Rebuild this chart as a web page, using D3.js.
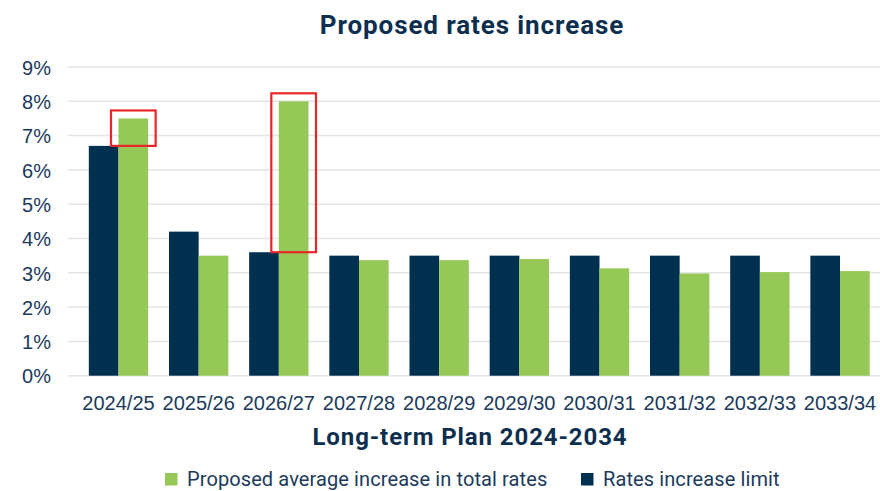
<!DOCTYPE html>
<html>
<head>
<meta charset="utf-8">
<script src="https://cdn.jsdelivr.net/npm/d3@7"></script>
<style>
  body { margin: 0; background: #fff; }
  svg { display: block; font-family: Roboto, "Noto Sans", sans-serif; }
</style>
</head>
<body>
<div id="chart"></div>
<script>
var years = ["2024/25", "2025/26", "2026/27", "2027/28", "2028/29", "2029/30", "2030/31", "2031/32", "2032/33", "2033/34"];
var limitValues = [6.7, 4.2, 3.6, 3.5, 3.5, 3.5, 3.5, 3.5, 3.5, 3.5];
var proposedValues = [7.5, 3.5, 8.0, 3.37, 3.37, 3.4, 3.13, 2.98, 3.02, 3.05];
var yTicks = [0, 1, 2, 3, 4, 5, 6, 7, 8, 9];
var highlighted = ["2024/25", "2026/27"];
var seriesNames = ["Rates increase limit", "Proposed average increase in total rates"];

var width = 880, height = 491;
var navy = "#00304f", green = "#95c857", ink = "#1b3a5c";

var svg = d3.select("#chart").append("svg")
  .attr("width", width)
  .attr("height", height);

/* scales */
var x = d3.scaleBand()
  .domain(years)
  .range([78.4, 880.1])
  .paddingInner(0.26)
  .paddingOuter(0.13);

var xs = d3.scaleBand()
  .domain([0, 1])
  .range([0, x.bandwidth()]);

var y = d3.scaleLinear()
  .domain([0, 9])
  .range([375.7, 67]);

/* grid lines */
svg.append("g")
  .selectAll("line")
  .data(yTicks)
  .enter().append("line")
  .attr("x1", 68)
  .attr("x2", width)
  .attr("y1", d => y(d))
  .attr("y2", d => y(d))
  .attr("stroke", "#e4e4e4")
  .attr("stroke-width", 1.5);

/* y axis labels */
var yAxis = svg.append("g")
  .attr("transform", "translate(51,0)")
  .call(d3.axisLeft(y).tickValues(yTicks).tickSize(0).tickPadding(0).tickFormat(d => d + "%"));
yAxis.select(".domain").remove();
yAxis.selectAll("text")
  .attr("fill", ink)
  .style("font-size", "20px")
  .attr("dy", "0.36em");

/* bars */
var rows = years.map((yr, i) => ({ year: yr, values: [limitValues[i], proposedValues[i]] }));

var groups = svg.append("g")
  .selectAll("g")
  .data(rows)
  .enter().append("g")
  .attr("transform", d => "translate(" + x(d.year) + ",0)");

groups.selectAll("rect")
  .data(d => d.values.map((v, k) => ({ k: k, v: v })))
  .enter().append("rect")
  .attr("x", d => xs(d.k))
  .attr("width", xs.bandwidth())
  .attr("y", d => y(d.v))
  .attr("height", d => y(0) - y(d.v))
  .attr("fill", d => d.k === 0 ? navy : green);

/* red highlight boxes: from limit bar top up past proposed bar top */
var boxes = rows.filter(d => highlighted.indexOf(d.year) >= 0);
svg.append("g")
  .selectAll("rect")
  .data(boxes)
  .enter().append("rect")
  .attr("x", d => x(d.year) + xs(1) - 7.5)
  .attr("width", xs.bandwidth() + 15)
  .attr("y", d => y(d.values[1]) - 8)
  .attr("height", d => y(d.values[0]) - y(d.values[1]) + 8)
  .attr("fill", "none")
  .attr("stroke", "#e8262a")
  .attr("stroke-width", 2.2);

/* x axis labels */
var xAxis = svg.append("g")
  .attr("transform", "translate(0,396)")
  .call(d3.axisBottom(x).tickSize(0).tickPadding(0));
xAxis.select(".domain").remove();
xAxis.selectAll("text")
  .attr("fill", ink)
  .style("font-size", "20px")
  .attr("dy", "0.72em");

/* titles */
svg.append("text")
  .attr("x", 472)
  .attr("y", 34)
  .attr("text-anchor", "middle")
  .attr("fill", "#0d2f4f")
  .style("font-size", "26px")
  .style("font-weight", "bold")
  .style("letter-spacing", "0.9px")
  .text("Proposed rates increase");

svg.append("text")
  .attr("x", 470)
  .attr("y", 445)
  .attr("text-anchor", "middle")
  .attr("fill", "#0d2f4f")
  .style("font-size", "24px")
  .style("font-weight", "bold")
  .style("letter-spacing", "0.9px")
  .text("Long-term Plan 2024-2034");

/* legend */
var legendItems = [
  { name: seriesNames[1], color: green, x: 165 },
  { name: seriesNames[0], color: navy, x: 581 }
];
var legend = svg.append("g")
  .selectAll("g")
  .data(legendItems)
  .enter().append("g")
  .attr("transform", d => "translate(" + d.x + ",473)");

legend.append("rect")
  .attr("width", 12.5)
  .attr("height", 12.5)
  .attr("fill", d => d.color);

legend.append("text")
  .attr("x", 22)
  .attr("y", 12.9)
  .attr("fill", ink)
  .style("font-size", "20px")
  .style("letter-spacing", "0.1px")
  .text(d => d.name);
</script>
</body>
</html>
